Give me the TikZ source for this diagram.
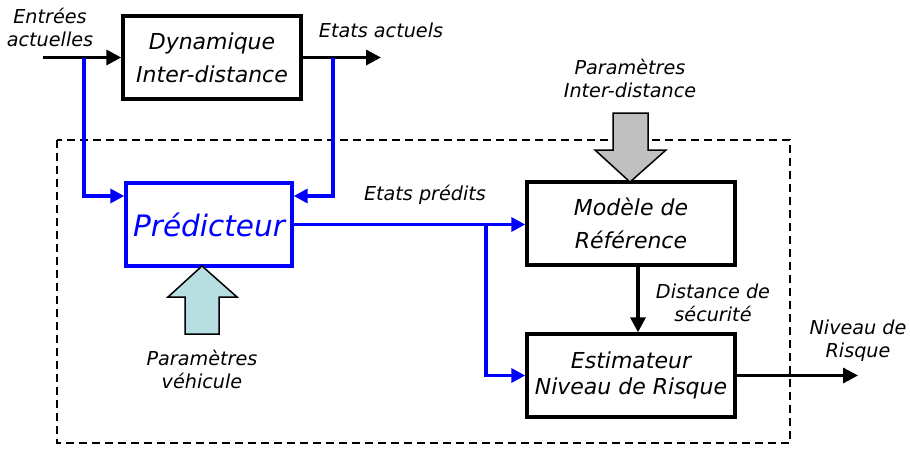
\documentclass[tikz,border=0pt]{standalone}
\usepackage{fontspec}
\setmainfont{DejaVu Sans}
\usetikzlibrary{arrows.meta}
\definecolor{pblue}{RGB}{0,0,255}
\definecolor{pgray}{RGB}{192,192,192}
\definecolor{pcyan}{RGB}{183,222,224}
\tikzset{
  box/.style={draw=black, line width=3.4pt, fill=white, align=center, font=\fontsize{22}{33}\selectfont\itshape},
  pbox/.style={draw=pblue, line width=3.4pt, fill=white, text=pblue, font=\fontsize{29.5}{33}\selectfont\itshape},
  lbl/.style={align=center, font=\fontsize{19.2}{23}\selectfont\itshape},
  arr/.style={draw=black, line width=3.3pt, -{Triangle[length=15pt,width=15pt]}},
  barr/.style={draw=pblue, line width=3.3pt, -{Triangle[length=14pt,width=14pt]}},
  blk/.style={draw=black, line width=1.5pt},
}
\begin{document}
\begin{tikzpicture}[x=1pt,y=-1pt]
\useasboundingbox (0,0) rectangle (910,448);
% dashed frame
\draw[line width=1.6pt, dash pattern=on 8pt off 5pt] (57,140) rectangle (790,443);
% boxes
\node[box, minimum width=178pt, minimum height=83pt] (dyn) at (212,57.5) {Dynamique\\Inter-distance};
\node[pbox, minimum width=166pt, minimum height=83pt] (pred) at (209,224.5) {Prédicteur};
\node[box, minimum width=208pt, minimum height=83pt] (mod) at (631,223.5) {Modèle de\\Référence};
\node[box, minimum width=208pt, minimum height=83pt, font=\fontsize{22}{26}\selectfont\itshape] (est) at (631,375.5) {Estimateur\\Niveau de Risque};
% coordinates
\coordinate (in) at (43,57.5);
\coordinate (b1) at (84,57.5);
\coordinate (b2) at (333,57.5);
\coordinate (out) at (381,57.5);
\coordinate (b3) at (486,224.5);
\coordinate (rout) at (858,375.5);
% connectors
\draw[arr] (in) -- (dyn.west);
\draw[arr] (dyn.east) -- (out);
\draw[barr] (b1) |- ([yshift=28.5pt]pred.west);
\draw[barr] (b2) |- ([yshift=28.5pt]pred.east);
\draw[barr] (pred.east) -- (pred.east -| mod.west);
\draw[barr] (b3) |- (est.west);
\draw[arr] ([xshift=7pt]mod.south) -- ([xshift=7pt]est.north);
\draw[arr] (est.east) -- (rout);
% block arrows
\draw[blk, fill=pgray] (613,113) -- (648,113) -- (648,150) -- (666,150) -- (630,182) -- (595,150) -- (613,150) -- cycle;
\draw[blk, fill=pcyan] (185,334) -- (219,334) -- (219,297) -- (237,297) -- (202,266) -- (168,297) -- (185,297) -- cycle;
% labels
\node[lbl] (l1) at (50,27) {Entrées\\actuelles};
\node[lbl] (l2) at (381,30) {Etats actuels};
\node[lbl] (l3) at (630,78) {Paramètres\\Inter-distance};
\node[lbl] (l4) at (425,195) {Etats prédits};
\node[lbl] (l5) at (202,369) {Paramètres\\véhicule};
\node[lbl] (l6) at (713,303) {Distance de\\sécurité};
\node[lbl] (l7) at (858,341) {Niveau de\\Risque};
\end{tikzpicture}
\end{document}
